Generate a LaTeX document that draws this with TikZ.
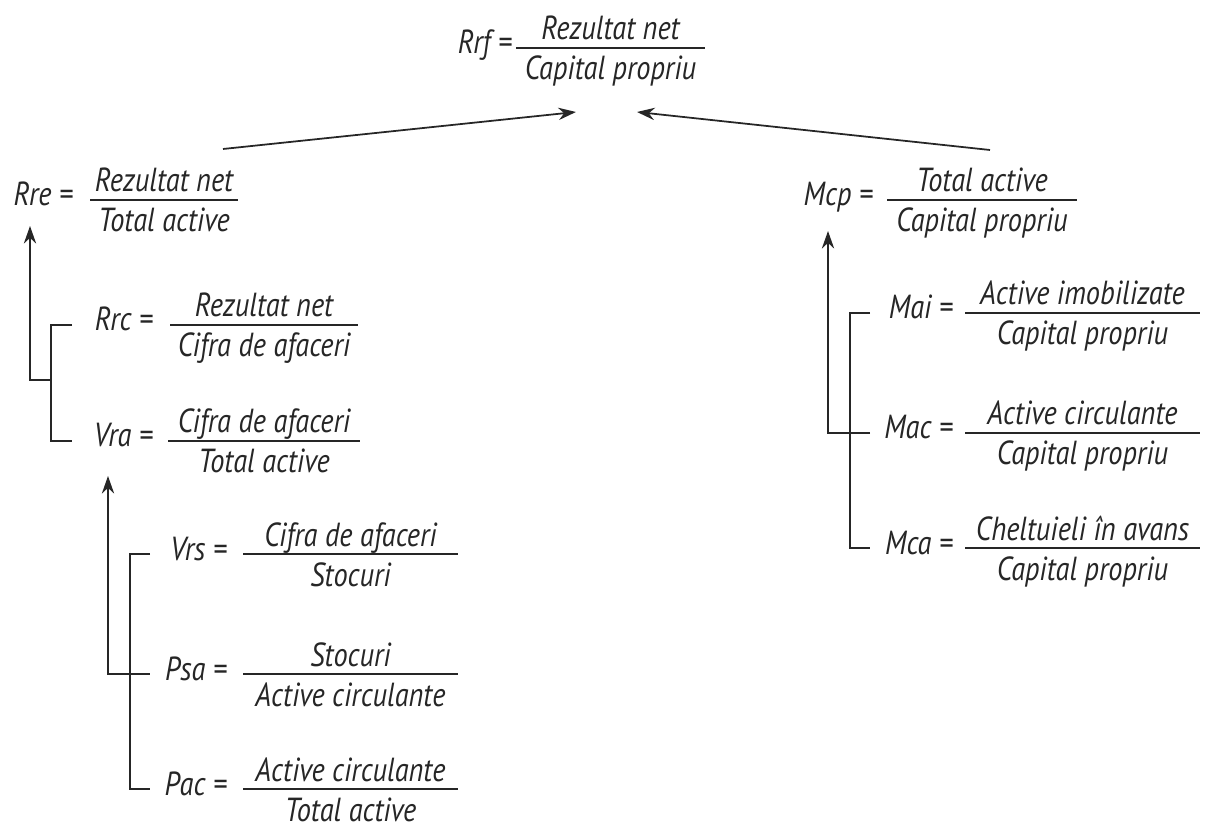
\documentclass[tikz,border=0pt]{standalone}
\usepackage{fontspec}
\setmainfont{PT Sans}[FakeStretch=0.85]
\usetikzlibrary{arrows.meta}
\definecolor{ink}{HTML}{262626}

% one ratio: name, label east x, bar from x, bar to x, bar y, label, numerator, denominator
\newcommand{\ratio}[8]{%
  \draw[bar] (#3,#5) -- (#4,#5);
  \node[lbl] (#1) at (#2,{#5+6}) {#6 =};
  \node[txt] (#1-num) at ({(#3+#4)/2},{#5-8}) {#7};
  \node[txt] (#1-den) at ({(#3+#4)/2},{#5+32}) {#8};
}

\tikzset{
  lbl/.style={inner sep=0pt, anchor=base east, text=ink},
  txt/.style={inner sep=0pt, anchor=base, text=ink},
  bar/.style={line width=1pt, draw=ink},
  link/.style={line width=1pt, draw=ink},
  up/.style={link, -{Stealth[length=10pt,width=7pt]}},
}

\begin{document}
\begin{tikzpicture}[x=0.02cm, y=-0.02cm, font=\fontsize{19}{22}\selectfont\itshape]
\useasboundingbox (0,0) rectangle (1209,830);

% top
\ratio{rrf}{512}{516}{705}{48}{Rrf}{Rezultat net}{Capital propriu}

% left branch
\ratio{rre}{73}{90}{238}{200}{Rre}{Rezultat net}{Total active}
\ratio{rrc}{153}{170}{358}{325}{Rrc}{Rezultat net}{Cifra de afaceri}
\ratio{vra}{153}{168}{360}{441}{Vra}{Cifra de afaceri}{Total active}
\ratio{vrs}{227}{243}{458}{554}{Vrs}{Cifra de afaceri}{Stocuri}
\ratio{psa}{227}{243}{458}{674}{Psa}{Stocuri}{Active circulante}
\ratio{pac}{227}{243}{458}{789}{Pac}{Active circulante}{Total active}

% right branch
\ratio{mcp}{873}{887}{1077}{200}{Mcp}{Total active}{Capital propriu}
\ratio{mai}{953}{965}{1200}{313}{Mai}{Active imobilizate}{Capital propriu}
\ratio{mac}{953}{965}{1200}{433}{Mac}{Active circulante}{Capital propriu}
\ratio{mca}{953}{965}{1200}{548}{Mca}{Cheltuieli în avans}{Capital propriu}

% arrow ends
\coordinate (rre-top) at (223,149);
\coordinate (rrf-in1) at (576,112);
\coordinate (mcp-top) at (990,150);
\coordinate (rrf-in2) at (637,112);
\coordinate (rre-in) at (30,226);
\coordinate (vra-in) at (108,476);
\coordinate (mcp-in) at (828,231);

% brackets
\coordinate (j1) at (30,380);
\coordinate (rrc-t) at (72,325);
\coordinate (vra-t) at (72,441);
\coordinate (j2) at (108,674);
\coordinate (vrs-t) at (150,554);
\coordinate (psa-t) at (150,674);
\coordinate (pac-t) at (150,789);
\coordinate (j3) at (828,433);
\coordinate (mai-t) at (870,313);
\coordinate (mac-t) at (870,433);
\coordinate (mca-t) at (870,548);

\draw[up] (rre-top) -- (rrf-in1);
\draw[up] (mcp-top) -- (rrf-in2);

\draw[link] (rrc-t) -| (51,441) -- (vra-t);
\draw[up] (51,380) -- (j1) -- (rre-in);

\draw[link] (vrs-t) -| (130,789) -- (pac-t);
\draw[link] (130,674) -- (psa-t);
\draw[up] (130,674) -- (j2) -- (vra-in);

\draw[link] (mai-t) -| (850,548) -- (mca-t);
\draw[link] (850,433) -- (mac-t);
\draw[up] (mac-t) -- (j3) -- (mcp-in);

\end{tikzpicture}
\end{document}
